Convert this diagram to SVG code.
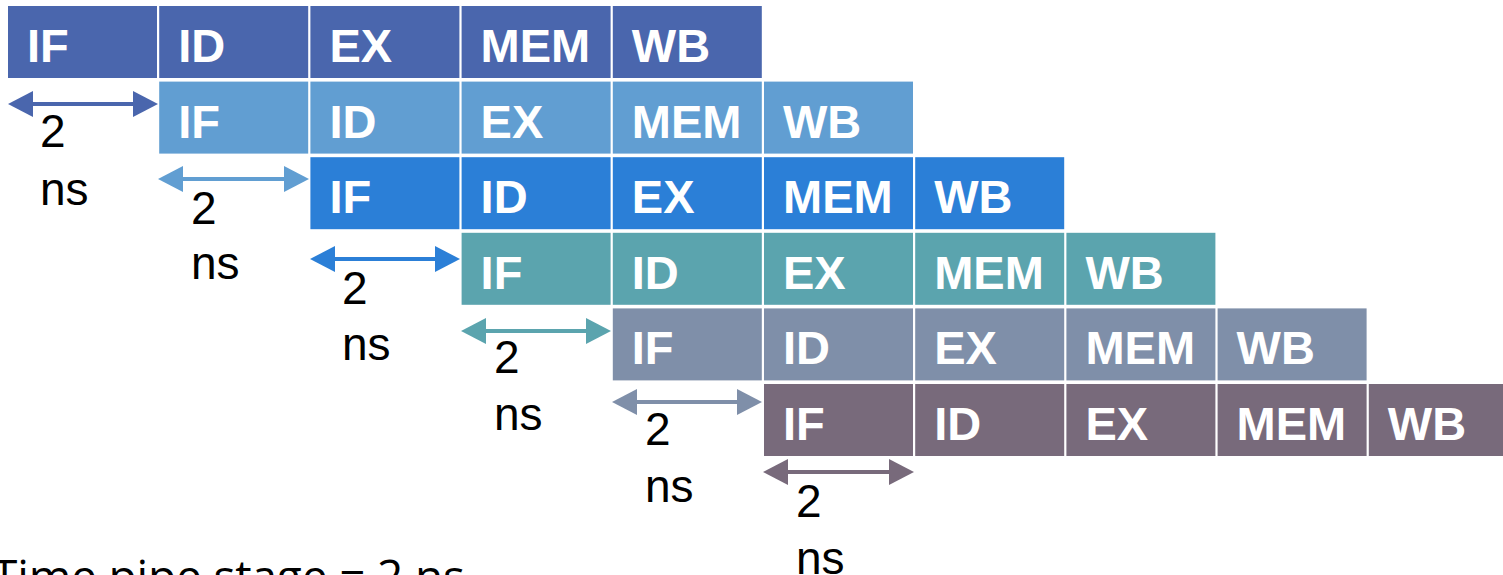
<svg xmlns="http://www.w3.org/2000/svg" width="1503" height="575" viewBox="0 0 1503 575">
<style>
.c{stroke:none}
.r0{fill:#4A66AD}.r1{fill:#619ED2}.r2{fill:#2B7FD7}.r3{fill:#5BA4AE}.r4{fill:#7F8FA9}.r5{fill:#786A7B}
.t{font-family:"Liberation Sans",Arial,sans-serif;font-weight:bold;font-size:47px;fill:#fff}
.n{font-family:"Liberation Sans",Arial,sans-serif;font-size:46px;fill:#000}
.a{stroke-width:4;fill:none}
.foot{font-family:"Open Sans","Noto Sans",sans-serif;font-size:46px;fill:#000}
</style>
<defs>
<marker id="m0" markerUnits="userSpaceOnUse" markerWidth="25" markerHeight="26" refX="5" refY="13" orient="auto-start-reverse"><path d="M0,0 L25,13 L0,26 Z" fill="#4A66AD"/></marker>
<marker id="m1" markerUnits="userSpaceOnUse" markerWidth="25" markerHeight="26" refX="5" refY="13" orient="auto-start-reverse"><path d="M0,0 L25,13 L0,26 Z" fill="#619ED2"/></marker>
<marker id="m2" markerUnits="userSpaceOnUse" markerWidth="25" markerHeight="26" refX="5" refY="13" orient="auto-start-reverse"><path d="M0,0 L25,13 L0,26 Z" fill="#2B7FD7"/></marker>
<marker id="m3" markerUnits="userSpaceOnUse" markerWidth="25" markerHeight="26" refX="5" refY="13" orient="auto-start-reverse"><path d="M0,0 L25,13 L0,26 Z" fill="#5BA4AE"/></marker>
<marker id="m4" markerUnits="userSpaceOnUse" markerWidth="25" markerHeight="26" refX="5" refY="13" orient="auto-start-reverse"><path d="M0,0 L25,13 L0,26 Z" fill="#7F8FA9"/></marker>
<marker id="m5" markerUnits="userSpaceOnUse" markerWidth="25" markerHeight="26" refX="5" refY="13" orient="auto-start-reverse"><path d="M0,0 L25,13 L0,26 Z" fill="#786A7B"/></marker>
</defs>
<rect width="1503" height="575" fill="#fff"/>

<g id="instr1">
<rect class="c r0" x="8" y="6" width="149" height="72"/><text class="t" x="27" y="62">IF</text>
<rect class="c r0" x="159.2" y="6" width="149" height="72"/><text class="t" x="178.2" y="62">ID</text>
<rect class="c r0" x="310.4" y="6" width="149" height="72"/><text class="t" x="329.4" y="62">EX</text>
<rect class="c r0" x="461.6" y="6" width="149" height="72"/><text class="t" x="480.6" y="62">MEM</text>
<rect class="c r0" x="612.8" y="6" width="149" height="72"/><text class="t" x="631.8" y="62">WB</text>
</g>
<g id="instr2">
<rect class="c r1" x="159.2" y="81.6" width="149" height="72"/><text class="t" x="178.2" y="137.6">IF</text>
<rect class="c r1" x="310.4" y="81.6" width="149" height="72"/><text class="t" x="329.4" y="137.6">ID</text>
<rect class="c r1" x="461.6" y="81.6" width="149" height="72"/><text class="t" x="480.6" y="137.6">EX</text>
<rect class="c r1" x="612.8" y="81.6" width="149" height="72"/><text class="t" x="631.8" y="137.6">MEM</text>
<rect class="c r1" x="764" y="81.6" width="149" height="72"/><text class="t" x="783" y="137.6">WB</text>
</g>
<g id="instr3">
<rect class="c r2" x="310.4" y="157.2" width="149" height="72"/><text class="t" x="329.4" y="213.2">IF</text>
<rect class="c r2" x="461.6" y="157.2" width="149" height="72"/><text class="t" x="480.6" y="213.2">ID</text>
<rect class="c r2" x="612.8" y="157.2" width="149" height="72"/><text class="t" x="631.8" y="213.2">EX</text>
<rect class="c r2" x="764" y="157.2" width="149" height="72"/><text class="t" x="783" y="213.2">MEM</text>
<rect class="c r2" x="915.2" y="157.2" width="149" height="72"/><text class="t" x="934.2" y="213.2">WB</text>
</g>
<g id="instr4">
<rect class="c r3" x="461.6" y="232.8" width="149" height="72"/><text class="t" x="480.6" y="288.8">IF</text>
<rect class="c r3" x="612.8" y="232.8" width="149" height="72"/><text class="t" x="631.8" y="288.8">ID</text>
<rect class="c r3" x="764" y="232.8" width="149" height="72"/><text class="t" x="783" y="288.8">EX</text>
<rect class="c r3" x="915.2" y="232.8" width="149" height="72"/><text class="t" x="934.2" y="288.8">MEM</text>
<rect class="c r3" x="1066.4" y="232.8" width="149" height="72"/><text class="t" x="1085.4" y="288.8">WB</text>
</g>
<g id="instr5">
<rect class="c r4" x="612.8" y="308.4" width="149" height="72"/><text class="t" x="631.8" y="364.4">IF</text>
<rect class="c r4" x="764" y="308.4" width="149" height="72"/><text class="t" x="783" y="364.4">ID</text>
<rect class="c r4" x="915.2" y="308.4" width="149" height="72"/><text class="t" x="934.2" y="364.4">EX</text>
<rect class="c r4" x="1066.4" y="308.4" width="149" height="72"/><text class="t" x="1085.4" y="364.4">MEM</text>
<rect class="c r4" x="1217.6" y="308.4" width="149" height="72"/><text class="t" x="1236.6" y="364.4">WB</text>
</g>
<g id="instr6">
<rect class="c r5" x="764" y="384" width="149" height="72"/><text class="t" x="783" y="440">IF</text>
<rect class="c r5" x="915.2" y="384" width="149" height="72"/><text class="t" x="934.2" y="440">ID</text>
<rect class="c r5" x="1066.4" y="384" width="149" height="72"/><text class="t" x="1085.4" y="440">EX</text>
<rect class="c r5" x="1217.6" y="384" width="149" height="72"/><text class="t" x="1236.6" y="440">MEM</text>
<rect class="c r5" x="1368.8" y="384" width="149" height="72"/><text class="t" x="1387.8" y="440">WB</text>
</g>

<g id="connectors">
<line class="a" x1="28" y1="104" x2="138" y2="104" stroke="#4A66AD" marker-start="url(#m0)" marker-end="url(#m0)"/>
<line class="a" x1="178" y1="179" x2="289" y2="179" stroke="#619ED2" marker-start="url(#m1)" marker-end="url(#m1)"/>
<line class="a" x1="330" y1="259" x2="440" y2="259" stroke="#2B7FD7" marker-start="url(#m2)" marker-end="url(#m2)"/>
<line class="a" x1="481" y1="331" x2="591" y2="331" stroke="#5BA4AE" marker-start="url(#m3)" marker-end="url(#m3)"/>
<line class="a" x1="632" y1="402" x2="742" y2="402" stroke="#7F8FA9" marker-start="url(#m4)" marker-end="url(#m4)"/>
<line class="a" x1="783" y1="472" x2="894" y2="472" stroke="#786A7B" marker-start="url(#m5)" marker-end="url(#m5)"/>
</g>

<g id="labels">
<text class="n" x="40" y="147">2</text><text class="n" x="40" y="205">ns</text>
<text class="n" x="191" y="224">2</text><text class="n" x="191" y="279">ns</text>
<text class="n" x="342" y="304">2</text><text class="n" x="342" y="360">ns</text>
<text class="n" x="494" y="373">2</text><text class="n" x="494" y="430">ns</text>
<text class="n" x="645" y="445">2</text><text class="n" x="645" y="502">ns</text>
<text class="n" x="796" y="517">2</text><text class="n" x="796" y="574">ns</text>
</g>

<text class="foot" x="-8" y="593" textLength="473" lengthAdjust="spacing">Time pipe stage = 2 ns</text>
</svg>
